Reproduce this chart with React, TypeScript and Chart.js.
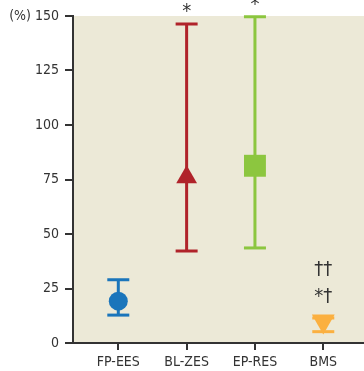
import React, { useEffect, useRef } from "react";
import { Chart, registerables } from "chart.js";

Chart.register(...registerables);

const categories = ["FP-EES", "BL-ZES", "EP-RES", "BMS"];
const means = [19.2, 76, 81.3, 10];
const lowers = [12.8, 42.2, 43.6, 5.2];
const uppers = [29, 146.3, 149.6, 11.5];
const colors = ["#1a75bb", "#b0232a", "#8cc63f", "#fbb040"];
const markerStyles = ["circle", "triangle", "rect", "triangle"];
const markerRotations = [0, 0, 0, 180];
const markerRadii = [9.5, 12, 15.5, 13.2];
const annotations: { index: number; value: number; text: string }[] = [
  { index: 1, value: 152, text: "*" },
  { index: 2, value: 155, text: "*" },
  { index: 3, value: 33.5, text: "††" },
  { index: 3, value: 21, text: "*†" },
];
const yTicks = [0, 25, 50, 75, 100, 125, 150];

const FONT = "'Liberation Sans Narrow', 'DejaVu Sans Condensed', 'Roboto Condensed', sans-serif";

export default function App() {
  const ref = useRef<HTMLCanvasElement | null>(null);
  useEffect(() => {
    if (!ref.current) return;
    const bgPlugin = {
      id: "bg",
      beforeDraw(chart: any) {
        const { ctx, chartArea } = chart;
        ctx.save();
        ctx.fillStyle = "#ECE9D7";
        ctx.fillRect(chartArea.left, chartArea.top, chartArea.right - chartArea.left, chartArea.bottom - chartArea.top);
        ctx.restore();
      },
    };
    const errPlugin = {
      id: "err",
      beforeDatasetsDraw(chart: any) {
        const { ctx } = chart;
        const xs = chart.scales.x;
        const ys = chart.scales.y;
        ctx.save();
        categories.forEach((_, i) => {
          const x = xs.getPixelForValue(i);
          const yl = ys.getPixelForValue(lowers[i]);
          const yu = ys.getPixelForValue(uppers[i]);
          ctx.strokeStyle = colors[i];
          ctx.lineWidth = 3;
          ctx.beginPath();
          ctx.moveTo(x, yl);
          ctx.lineTo(x, yu);
          ctx.moveTo(x - 11, yu);
          ctx.lineTo(x + 11, yu);
          ctx.stroke();
        });
        ctx.restore();
      },
      afterDatasetsDraw(chart: any) {
        const { ctx } = chart;
        const xs = chart.scales.x;
        const ys = chart.scales.y;
        ctx.save();
        categories.forEach((_, i) => {
          const x = xs.getPixelForValue(i);
          const yl = ys.getPixelForValue(lowers[i]);
          ctx.strokeStyle = colors[i];
          ctx.lineWidth = 3;
          ctx.beginPath();
          ctx.moveTo(x - 11, yl);
          ctx.lineTo(x + 11, yl);
          ctx.stroke();
        });
        ctx.restore();
      },
      afterDraw(chart: any) {
        const { ctx } = chart;
        const xs = chart.scales.x;
        const ys = chart.scales.y;
        ctx.save();
        ctx.fillStyle = "#333";
        ctx.font = "20px " + FONT;
        ctx.textAlign = "center";
        ctx.textBaseline = "middle";
        annotations.forEach((a) => {
          ctx.fillText(a.text, xs.getPixelForValue(a.index), ys.getPixelForValue(a.value));
        });
        ctx.restore();
      },
    };
    const chart = new Chart(ref.current, {
      type: "scatter",
      data: {
        datasets: [
          {
            data: means.map((m, i) => ({ x: i, y: m })),
            pointStyle: markerStyles as any,
            rotation: markerRotations,
            radius: markerRadii,
            backgroundColor: colors,
            borderColor: colors,
            borderWidth: 0,
          } as any,
        ],
      },
      options: {
        animation: false,
        responsive: false,
        maintainAspectRatio: false,
        layout: { autoPadding: false, padding: { top: 16, right: 0, left: 0, bottom: 0 } },
        plugins: { legend: { display: false }, tooltip: { enabled: false } },
        scales: {
          x: {
            type: "linear",
            min: -0.663,
            max: 3.596,
            afterBuildTicks(scale: any) {
              scale.ticks = categories.map((_, i) => ({ value: i }));
            },
            afterFit(scale: any) {
              scale.height = 28;
              scale.paddingRight = 0;
              scale.paddingLeft = 0;
            },
            ticks: {
              callback: (v: any) => categories[v] ?? "",
              color: "#333",
              font: { family: FONT, size: 14 },
              padding: 4,
              maxRotation: 0,
              autoSkip: false,
            },
            grid: { drawOnChartArea: false, drawTicks: true, tickLength: 7, color: "#333", lineWidth: 2 },
            border: { display: true, color: "#333", width: 2 },
          },
          y: {
            min: 0,
            max: 150,
            afterBuildTicks(scale: any) {
              scale.ticks = yTicks.map((v) => ({ value: v }));
            },
            afterFit(scale: any) {
              scale.width = 73;
              scale.paddingTop = 0;
              scale.paddingBottom = 0;
            },
            ticks: {
              callback: (v: any) => (v === 150 ? "(%) 150" : String(v)),
              color: "#333",
              font: { family: FONT, size: 14 },
              padding: 6,
            },
            grid: { drawOnChartArea: false, drawTicks: true, tickLength: 8, color: "#333", lineWidth: 2 },
            border: { display: true, color: "#333", width: 2 },
          },
        },
      },
      plugins: [bgPlugin, errPlugin],
    });
    return () => chart.destroy();
  }, []);
  return (
    <div style={{ position: "fixed", left: 0, top: 0, width: 364, height: 371, overflow: "hidden" }}>
      <canvas ref={ref} width={364} height={371} style={{ width: 364, height: 371 }} />
    </div>
  );
}
